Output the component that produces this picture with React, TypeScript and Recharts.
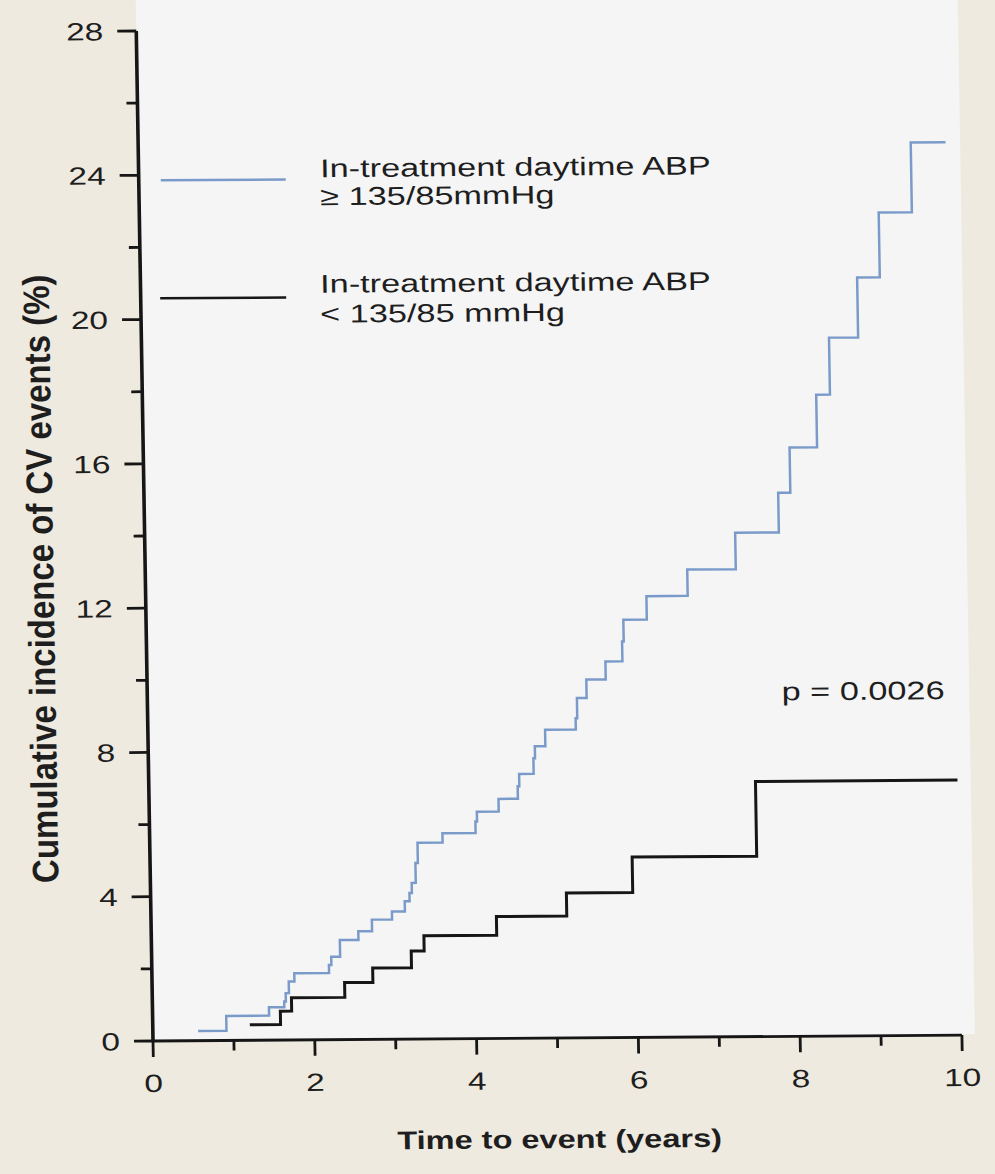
import { CartesianGrid, Line, LineChart, XAxis, YAxis } from "recharts";

// step curve: in-treatment daytime ABP >= 135/85 mmHg
const highTimes = [
  0.56, 0.91, 1.44, 1.63, 1.65, 1.69, 1.76, 2.19, 2.22, 2.33, 2.56, 2.73, 2.98,
  3.14, 3.2, 3.23, 3.28, 3.31, 3.62, 4.03, 4.05, 4.32, 4.56, 4.58, 4.76, 4.78,
  4.91, 5.29, 5.31, 5.43, 5.67, 5.88, 5.9, 6.19, 6.7, 7.3, 7.84, 7.99, 8.33,
  8.5, 8.86, 9.14, 9.55, 9.98,
];
const highValues = [
  0.27, 0.68, 0.91, 1.07, 1.3, 1.62, 1.85, 2.07, 2.3, 2.76, 3.0, 3.32, 3.54,
  3.82, 4.05, 4.33, 4.88, 5.44, 5.7, 6.02, 6.29, 6.64, 6.99, 7.33, 7.76, 8.09,
  8.55, 8.86, 9.42, 9.93, 10.43, 10.98, 11.58, 12.23, 12.96, 13.97, 15.07,
  16.32, 17.78, 19.36, 21.02, 22.82, 24.75, 24.75,
];

// step curve: in-treatment daytime ABP < 135/85 mmHg
const lowTimes = [1.2, 1.58, 1.72, 2.38, 2.73, 3.21, 3.37, 4.27, 5.14, 5.96, 7.5, 10.0];
const lowValues = [0.43, 0.8, 1.17, 1.58, 1.98, 2.44, 2.86, 3.38, 4.02, 5.0, 7.07, 7.07];

const xTicks = [0, 1, 2, 3, 4, 5, 6, 7, 8, 9, 10];
const yTicks = [0, 2, 4, 6, 8, 10, 12, 14, 16, 18, 20, 22, 24, 26, 28];

const legendHigh = ["In-treatment daytime ABP", "\u2265 135/85mmHg"];
const legendLow = ["In-treatment daytime ABP", "< 135/85 mmHg"];
const pValue = "p = 0.0026";
const xTitle = "Time to event (years)";
const yTitle = "Cumulative incidence of CV events (%)";

const highData = highTimes.map((t, i) => ({ t, v: highValues[i] }));
const lowData = lowTimes.map((t, i) => ({ t, v: lowValues[i] }));

const FONT = '"Liberation Sans", Arial, Helvetica, sans-serif';
const STRETCH = 1.34;
const INK = "#161616";
const TEXT = "#1e1e1e";
const BLUE = "#7a9bc9";

function YTick(props: any) {
  const { x, y, payload } = props;
  const major = payload.value % 4 === 0;
  return (
    <g>
      <line x1={x} x2={x - (major ? 19 : 11)} y1={y} y2={y} stroke={INK} strokeWidth={2.8} />
      {major && (
        <text
          transform={`translate(${x - 33} ${y}) scale(${STRETCH} 1)`}
          textAnchor="end"
          dy={9}
          fontSize={25}
          fontFamily={FONT}
          fill={TEXT}
        >
          {payload.value}
        </text>
      )}
    </g>
  );
}

function XTick(props: any) {
  const { x, y, payload } = props;
  const major = payload.value % 2 === 0;
  return (
    <g>
      <line x1={x} x2={x} y1={y} y2={y + (major ? 16 : 10)} stroke={INK} strokeWidth={2.8} />
      {major && (
        <text
          transform={`translate(${x} ${y + 51}) scale(${STRETCH} 1)`}
          textAnchor="middle"
          fontSize={25}
          fontFamily={FONT}
          fill={TEXT}
        >
          {payload.value}
        </text>
      )}
    </g>
  );
}

function Stretched({ x, y, size, children }: any) {
  return (
    <text
      transform={`translate(${x} ${y}) scale(${STRETCH} 1)`}
      fontSize={size}
      fontFamily={FONT}
      fill={TEXT}
    >
      {children}
    </text>
  );
}

export default function App() {
  return (
    <div
      style={{
        position: "absolute",
        left: 0,
        top: 0,
        width: 995,
        height: 1174,
        background: "#efeadf",
        overflow: "hidden",
      }}
    >
      <div
        style={{
          position: "absolute",
          left: 0,
          top: 0,
          width: 995,
          height: 1174,
          transform: "skewX(0.95deg) skewY(-0.42deg)",
          transformOrigin: "153px 1040px",
        }}
      >
        <div
          style={{
            position: "absolute",
            left: 153,
            top: 0,
            width: 822,
            height: 1040,
            background: "#f5f5f6",
          }}
        />
        <div style={{ position: "absolute", left: 0, top: 0 }}>
          <LineChart
            width={995}
            height={1174}
            margin={{ top: 31, right: 33, bottom: 83, left: 83 }}
          >
            <CartesianGrid horizontal={false} vertical={false} fill="#f5f5f6" />
            <XAxis
              type="number"
              dataKey="t"
              domain={[0, 10]}
              ticks={xTicks}
              allowDataOverflow
              height={50}
              tickSize={0}
              tickMargin={0}
              tickLine={false}
              axisLine={{ stroke: INK, strokeWidth: 2.8 }}
              tick={<XTick />}
              interval={0}
            />
            <YAxis
              type="number"
              dataKey="v"
              domain={[0, 28]}
              ticks={yTicks}
              allowDataOverflow
              width={70}
              tickSize={0}
              tickMargin={0}
              tickLine={false}
              axisLine={{ stroke: INK, strokeWidth: 3.6 }}
              tick={<YTick />}
              interval={0}
            />
            <Line
              data={lowData}
              dataKey="v"
              type="stepAfter"
              stroke={INK}
              strokeWidth={3}
              dot={false}
              activeDot={false}
              isAnimationActive={false}
            />
            <Line
              data={highData}
              dataKey="v"
              type="stepAfter"
              stroke={BLUE}
              strokeWidth={2.5}
              dot={false}
              activeDot={false}
              isAnimationActive={false}
            />
          </LineChart>
        </div>
        <svg
          width={995}
          height={1174}
          style={{ position: "absolute", left: 0, top: 0, pointerEvents: "none" }}
        >
          <line x1={175} x2={300} y1={180.5} y2={180.5} stroke={BLUE} strokeWidth={2.5} />
          <Stretched x={334.5} y={178.5} size={25.6}>{legendHigh[0]}</Stretched>
          <Stretched x={334.2} y={206.5} size={25.6}>{legendHigh[1]}</Stretched>
          <line x1={172.5} x2={298.5} y1={298.5} y2={298.5} stroke={INK} strokeWidth={2.5} />
          <Stretched x={332.7} y={294} size={25.6}>{legendLow[0]}</Stretched>
          <Stretched x={332.2} y={324} size={25.6}>{legendLow[1]}</Stretched>
          <Stretched x={787.4} y={705} size={25.6}>{pValue}</Stretched>
          <text
            transform={`translate(558 1151) scale(1.27 1)`}
            textAnchor="middle"
            fontSize={25.6}
            fontWeight="bold"
            fontFamily={FONT}
            fill={TEXT}
          >
            {xTitle}
          </text>
          <text
            transform={`translate(48 578) scale(1.12 1) rotate(-90)`}
            textAnchor="middle"
            dominantBaseline="central"
            fontSize={33}
            fontWeight="bold"
            fontFamily={FONT}
            fill={TEXT}
          >
            {yTitle}
          </text>
        </svg>
      </div>
    </div>
  );
}
